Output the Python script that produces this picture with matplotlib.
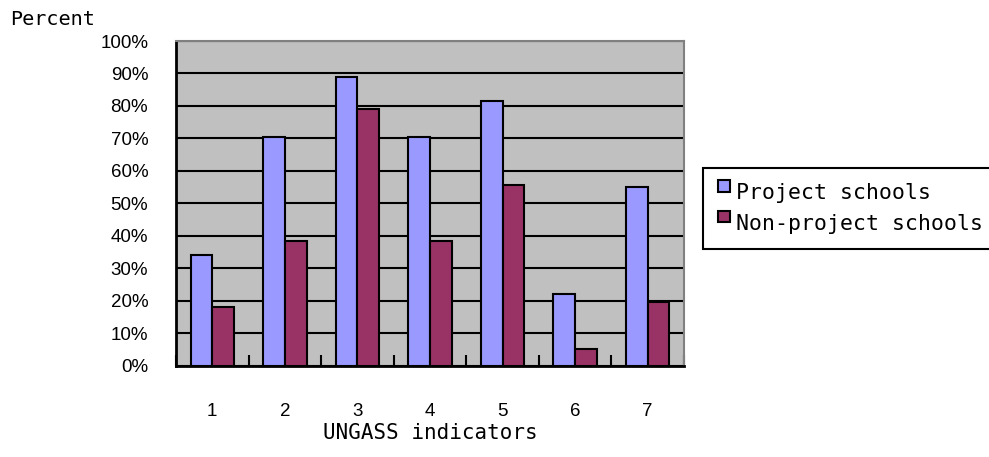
import numpy as np
import matplotlib
matplotlib.use("Agg")
import matplotlib.pyplot as plt
from matplotlib.patches import Patch, Rectangle
from matplotlib.legend_handler import HandlerPatch

# UNGASS indicator results, percent of respondents
indicators = ["1", "2", "3", "4", "5", "6", "7"]
project = [34, 70.5, 89, 70.5, 81.5, 22, 55]
non_project = [18, 38.5, 79, 38.5, 55.5, 5, 19.5]
y_labels = ["0%", "10%", "20%", "30%", "40%", "50%", "60%", "70%", "80%", "90%", "100%"]

c_proj = "#9999FF"
c_non = "#993366"
mono = "DejaVu Sans Mono"
sans = "Liberation Sans"

fig = plt.figure(figsize=(9.89, 4.57), dpi=100)
ax = fig.add_axes([176/989, 1-365.5/457, 508/989, 324.5/457])
ax.set_facecolor("#C0C0C0")

x = np.arange(len(indicators))
w = 0.3
ax.bar(x - w/2, project, w, color=c_proj, edgecolor="black", linewidth=1.5, zorder=3)
ax.bar(x + w/2, non_project, w, color=c_non, edgecolor="black", linewidth=1.5, zorder=3)

ax.set_xlim(-0.5, len(indicators) - 0.5)
ax.set_ylim(0, 100)
ax.set_yticks(np.arange(0, 101, 10))
ax.set_yticklabels(y_labels, fontfamily=sans, fontsize=13.5)
ax.yaxis.grid(True, color="black", linewidth=1.5, zorder=1)
ax.tick_params(axis="y", length=0, pad=20)

# category labels centred, ticks on category boundaries pointing in
ax.set_xticks(x)
ax.set_xticklabels(indicators, fontfamily=sans, fontsize=13.5)
ax.set_xticks(np.arange(-0.5, len(indicators)), minor=True)
ax.tick_params(axis="x", which="major", length=0, pad=27)
ax.tick_params(axis="x", which="minor", direction="in", length=8, width=1.5, color="black")
ax.set_xlabel("UNGASS indicators", fontfamily=mono, fontsize=15, labelpad=2)

for side in ["left", "bottom"]:
    ax.spines[side].set_color("black")
    ax.spines[side].set_linewidth(2)
for side in ["top", "right"]:
    ax.spines[side].set_color("#808080")
    ax.spines[side].set_linewidth(1.5)

fig.text(10/989, 1-19.5/457, "Percent", fontfamily=mono, fontsize=14.5, va="center", ha="left")


def raised_square(legend, orig_handle, xdescent, ydescent, width, height, fontsize):
    # small key square sitting at the top of the text line
    s = 8.5
    return Rectangle((-xdescent, -ydescent + height - s + 3), s, s)


handles = [Patch(facecolor=c_proj, edgecolor="black", linewidth=1.5),
           Patch(facecolor=c_non, edgecolor="black", linewidth=1.5)]
leg = fig.legend(handles, ["Project schools", "Non-project schools"],
                 loc="upper left", bbox_to_anchor=(703/989, 1-168/457),
                 prop={"family": mono, "size": 15.5},
                 handler_map={Patch: HandlerPatch(patch_func=raised_square)},
                 handlelength=0.55, handleheight=0.7, handletextpad=0.3,
                 borderpad=0.7, labelspacing=0.5, borderaxespad=0,
                 fancybox=False, framealpha=1, edgecolor="black")
leg.get_frame().set_linewidth(1.5)

fig.savefig("out.png", dpi=100)
